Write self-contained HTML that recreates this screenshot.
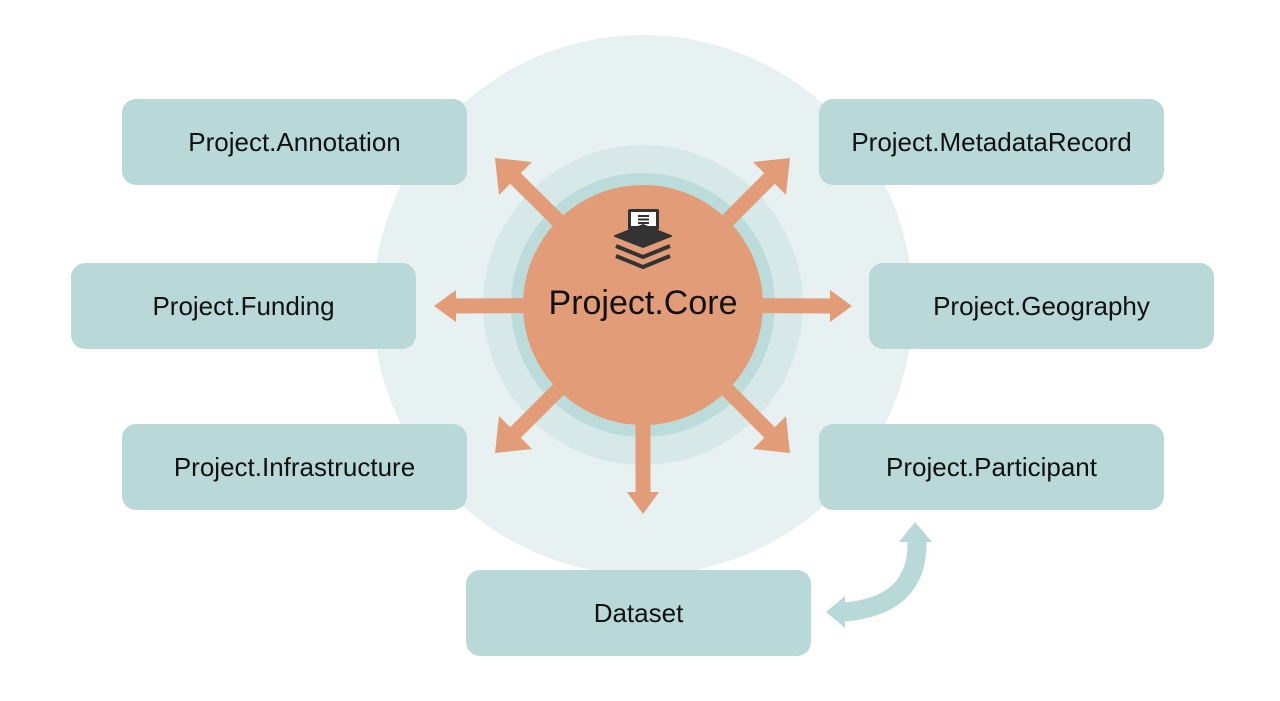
<!DOCTYPE html>
<html><head><meta charset="utf-8"><style>
body{margin:0;width:1280px;height:701px;background:#fff;overflow:hidden;position:relative;font-family:"Liberation Sans",sans-serif}
.b{position:absolute;width:345px;height:86px;background:#b9d9d8;border-radius:14px;display:flex;align-items:center;justify-content:center;font-size:26px;color:#111}
svg{position:absolute;left:0;top:0}
</style></head><body>
<svg width="1280" height="701">
<circle cx="643" cy="305" r="270" fill="#e8f1f1"/>
<circle cx="643" cy="305" r="160" fill="#d6e8e8"/>
<circle cx="643" cy="305" r="132" fill="#bcdcdc"/>
<g stroke="#e29d78" stroke-width="15">
<line x1="643" y1="305" x2="510" y2="173"/>
<line x1="643" y1="305" x2="775" y2="173"/>
<line x1="643" y1="305" x2="452" y2="306"/>
<line x1="643" y1="305" x2="834" y2="306"/>
<line x1="643" y1="305" x2="510" y2="438"/>
<line x1="643" y1="305" x2="775" y2="438"/>
<line x1="643" y1="305" x2="643" y2="495"/>
</g>
<g fill="#e29d78">
<polygon points="495,158 532,162 499,195"/>
<polygon points="790,158 786,195 753,162"/>
<polygon points="434,306 456,290 456,322"/>
<polygon points="852,306 830,290 830,322"/>
<polygon points="495,453 499,416 532,449"/>
<polygon points="790,453 753,449 786,416"/>
<polygon points="643,514 627,492 659,492"/>
</g>
<circle cx="643" cy="305" r="120" fill="#e29d78"/>
<g fill="#333">
<rect x="628" y="209" width="31" height="21" rx="2" fill="#333"/>
<rect x="631" y="212" width="25" height="14" fill="#fff"/>
<rect x="638" y="215" width="11" height="2" fill="#333"/>
<rect x="638" y="218.5" width="11" height="2" fill="#333"/>
<rect x="638" y="222" width="11" height="2" fill="#333"/>
<path d="M615 236 L643 225 L671 236 L643 247Z" stroke="#333" stroke-width="2" stroke-linejoin="round"/>
<path d="M616 246 L643 257 L670 246" fill="none" stroke="#333" stroke-width="4" stroke-linejoin="round"/>
<path d="M616 256 L643 267 L670 256" fill="none" stroke="#333" stroke-width="4" stroke-linejoin="round"/>
</g>
<text x="643" y="314" text-anchor="middle" font-family="Liberation Sans,sans-serif" font-size="34" fill="#111">Project.Core</text>
<path d="M844 612 Q918 606 917 542" fill="none" stroke="#b9d9d8" stroke-width="19"/>
<polygon points="915,522 899,542 932,542" fill="#b9d9d8"/>
<polygon points="826,612 845,596 845,628" fill="#b9d9d8"/>
</svg>
<div class="b" style="left:122px;top:99px">Project.Annotation</div>
<div class="b" style="left:819px;top:99px">Project.MetadataRecord</div>
<div class="b" style="left:71px;top:263px">Project.Funding</div>
<div class="b" style="left:869px;top:263px">Project.Geography</div>
<div class="b" style="left:122px;top:424px">Project.Infrastructure</div>
<div class="b" style="left:819px;top:424px">Project.Participant</div>
<div class="b" style="left:466px;top:570px">Dataset</div>
</body></html>
